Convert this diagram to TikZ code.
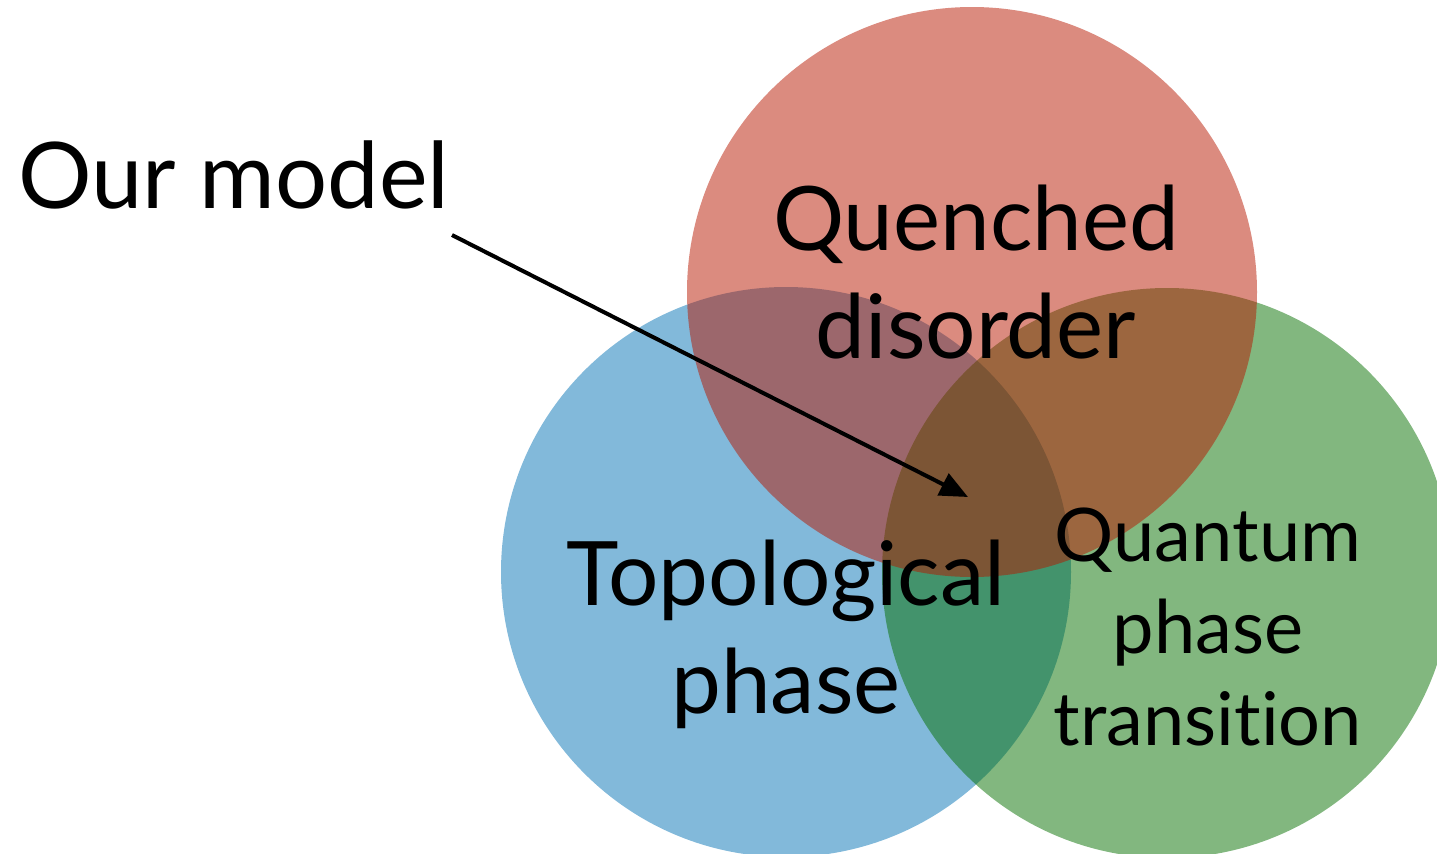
\documentclass[tikz,border=0pt]{standalone}
\usepackage{fontspec}
\setmainfont{Lato}[Ligatures={NoCommon}]
\usetikzlibrary{arrows.meta}
\definecolor{topoblue}{RGB}{5,115,181}
\definecolor{qptgreen}{RGB}{5,111,0}
\definecolor{disorderred}{RGB}{183,23,0}

\begin{document}
\begin{tikzpicture}[x=0.5pt,y=-0.5pt,
        blob/.style={fill opacity=0.5},
        biglabel/.style={align=center,inner sep=0pt,font=\fontsize{44.5}{54}\selectfont},
        smalllabel/.style={align=center,inner sep=0pt,font=\fontsize{37}{46}\selectfont}]
        \clip (0,0) rectangle (1437,853);
        % Circles:
        % blue at the bottom, then green, red on top, all half transparent
        \fill [blob, topoblue] (786,572) circle [radius=142.5pt];
        \fill [blob, qptgreen] (1167,573) circle [radius=142.5pt];
        \fill [blob, disorderred] (972,292) circle [radius=142.5pt];

        % Labels:
        \node [biglabel] (quenched) at (976,272) {Quenched\\disorder};
        \node [biglabel] (topo) at (786,634) {Topological\\phase};
        \node [smalllabel] (quantum) at (1208,627) {Quantum\\phase\\transition};
        \node [biglabel, font=\fontsize{46}{54}\selectfont, anchor=base west] (model) at (18,208) {Our model};

        % Arrow from the label into the middle:
        \coordinate (tail) at (452,235);
        \coordinate (tip) at (968,497);
        \draw [-{Triangle[length=14pt,width=12pt]}, line width=2pt] (tail) -- (tip);
    \end{tikzpicture}
\end{document}
